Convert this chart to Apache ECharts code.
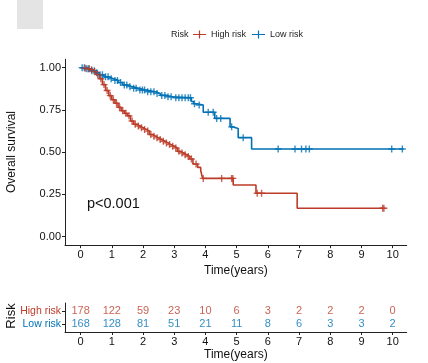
<!DOCTYPE html>
<html>
<head>
<meta charset="utf-8">
<script src="https://cdn.jsdelivr.net/npm/echarts@6/dist/echarts.min.js"></script>
<style>html,body{margin:0;padding:0;background:#fff}#c{width:428px;height:363px}</style>
</head>
<body>
<div id="c"></div>
<script>
// ---- data ----
const groups = ['High risk', 'Low risk'];
const colors = ['#BC3C29', '#0072B5'];
// step curves: [time, survival after event]
const highSteps = [[0,1.0],[0.1,0.997],[0.2,0.994],[0.3,0.988],[0.4,0.977],[0.5,0.96],[0.6,0.935],[0.7,0.9],[0.8,0.865],[0.9,0.835],[1.0,0.81],[1.1,0.79],[1.2,0.765],[1.3,0.745],[1.4,0.73],[1.5,0.715],[1.6,0.685],[1.7,0.665],[1.8,0.655],[1.9,0.645],[2.0,0.635],[2.1,0.625],[2.2,0.605],[2.3,0.595],[2.4,0.585],[2.5,0.575],[2.6,0.565],[2.7,0.555],[2.8,0.545],[2.9,0.535],[3.0,0.525],[3.1,0.505],[3.2,0.495],[3.3,0.485],[3.4,0.475],[3.5,0.46],[3.6,0.43],[3.75,0.41],[3.85,0.39],[3.91,0.345],[4.89,0.306],[5.62,0.257],[6.94,0.168],[9.72,0.168]];
const lowSteps = [[0,1.0],[0.15,0.994],[0.3,0.982],[0.45,0.97],[0.6,0.958],[0.75,0.946],[0.9,0.935],[1.05,0.925],[1.2,0.912],[1.35,0.898],[1.5,0.888],[1.65,0.878],[1.85,0.868],[2.1,0.858],[2.4,0.848],[2.55,0.836],[2.75,0.828],[2.95,0.822],[3.55,0.80],[3.62,0.787],[3.72,0.779],[3.93,0.736],[4.3,0.70],[4.79,0.65],[4.86,0.64],[5.05,0.586],[5.48,0.519],[10.35,0.519]];
// censoring times
const highCensor = [0.15,0.25,0.35,0.45,0.55,0.65,0.75,0.85,0.95,1.05,1.15,1.25,1.35,1.45,1.55,1.65,1.75,1.85,1.95,2.05,2.15,2.25,2.35,2.45,2.55,2.65,2.75,2.85,2.95,3.05,3.15,3.25,3.35,3.45,3.55,3.7,3.93,4.52,4.84,4.88,5.66,5.8,9.68,9.72];
const lowCensor = [0.05,0.12,0.2,0.28,0.36,0.44,0.52,0.62,0.7,0.8,0.88,0.98,1.1,1.18,1.28,1.4,1.48,1.58,1.7,1.78,1.9,1.98,2.05,2.15,2.25,2.35,2.45,2.6,2.7,2.8,2.9,3.05,3.15,3.25,3.35,3.45,3.52,3.65,3.8,4.09,4.25,4.36,4.49,4.84,5.21,6.33,6.87,7.08,7.22,7.33,9.97,10.31];
// numbers at risk
const riskTimes = [0,1,2,3,4,5,6,7,8,9,10];
const highAtRisk = [178,122,59,23,10,6,3,2,2,2,0];
const lowAtRisk = [168,128,81,51,21,11,8,6,3,3,2];
const xTicks = [0,1,2,3,4,5,6,7,8,9,10];
const yTicks = [0,0.25,0.5,0.75,1];

function survAt(steps, t){ let s = steps[0][1]; for (const p of steps){ if (p[0] <= t) s = p[1]; } return s; }

const FONT = 'Liberation Sans, Arial, Helvetica, sans-serif';
const plus = 'path://M3.2,0h1.6v3.2h3.2v1.6h-3.2v3.2h-1.6v-3.2h-3.2v-1.6h3.2z';
const legIcon = 'path://M0,3.4h6v-3.4h1.2v3.4h6v1.2h-6v3.4h-1.2v-3.4h-6z';
const axisCol = '#222';
const txtCol = '#111';

const chart = echarts.init(document.getElementById('c'), null, {renderer:'canvas'});
const stepsArr = [highSteps, lowSteps];
const censArr = [highCensor, lowCensor];
const series = [];
groups.forEach((g,i)=>{
  series.push({name:g, type:'line', step:'end', xAxisIndex:0, yAxisIndex:0, data:stepsArr[i], symbol:'none',
    lineStyle:{color:colors[i], width:1.6}, itemStyle:{color:colors[i]}, z: 3-i, silent:true});
  series.push({name:g, type:'scatter', xAxisIndex:0, yAxisIndex:0, symbol:plus, symbolSize:7,
    data:censArr[i].map(t=>[t, survAt(stepsArr[i], t)]), itemStyle:{color:colors[i]}, z:4-i, silent:true});
});
const riskArr = [highAtRisk, lowAtRisk];
const rowPos = [2,1];
groups.forEach((g,i)=>{
  series.push({name:g+' table', type:'scatter', xAxisIndex:1, yAxisIndex:1, symbolSize:0,
    data:riskTimes.map((t,k)=>[t,rowPos[i],riskArr[i][k]]),
    label:{show:true, position:'inside', formatter:p=>String(p.value[2]), color:colors[i], fontSize:11, fontFamily:FONT},
    silent:true});
});

chart.setOption({
  animation:false,
  textStyle:{fontFamily:FONT},
  legend:{data:groups.map((g,i)=>({name:g, icon:legIcon, itemStyle:{color:colors[i]}})),
    left:193, top:30, itemWidth:13, itemHeight:8, itemGap:6, padding:0,
    textStyle:{fontSize:9, color:'#222', fontFamily:FONT}, selectedMode:false},
  graphic:[
    {type:'rect', shape:{x:17,y:0,width:26,height:29}, style:{fill:'#e4e4e4'}},
    {type:'text', x:171, y:35, style:{text:'Risk', fontSize:9, fill:'#222', fontFamily:FONT, textVerticalAlign:'middle'}},
    {type:'text', x:12, y:152, rotation:Math.PI/2, style:{text:'Overall survival', fontSize:12, fill:txtCol, fontFamily:FONT, textAlign:'center', textVerticalAlign:'middle'}},
    {type:'text', x:87, y:203.5, style:{text:'p<0.001', fontSize:14.5, fill:txtCol, fontFamily:FONT, textVerticalAlign:'middle'}},
    {type:'text', x:11, y:316, rotation:Math.PI/2, style:{text:'Risk', fontSize:13, fill:txtCol, fontFamily:FONT, textAlign:'center', textVerticalAlign:'middle'}}
  ],
  grid:[
    {left:65, right:21.3, top:59.25, height:185.9},
    {left:65, right:21.3, top:303, height:29}
  ],
  xAxis:[
    {type:'value', gridIndex:0, min:-0.5, max:10.45, splitLine:{show:false},
     axisLine:{show:true, onZero:false, lineStyle:{color:axisCol, width:1}},
     axisTick:{show:true, length:3, customValues:xTicks, lineStyle:{color:axisCol}},
     axisLabel:{customValues:xTicks, fontSize:11, color:txtCol, margin:4, fontFamily:FONT},
     name:'Time(years)', nameLocation:'middle', nameGap:16, nameTextStyle:{fontSize:12, color:txtCol, fontFamily:FONT}},
    {type:'value', gridIndex:1, min:-0.5, max:10.45, splitLine:{show:false},
     axisLine:{show:true, onZero:false, lineStyle:{color:axisCol, width:1}},
     axisTick:{show:true, length:3, customValues:xTicks, lineStyle:{color:axisCol}},
     axisLabel:{customValues:xTicks, fontSize:11, color:txtCol, margin:4, fontFamily:FONT},
     name:'Time(years)', nameLocation:'middle', nameGap:16.5, nameTextStyle:{fontSize:12, color:txtCol, fontFamily:FONT}}
  ],
  yAxis:[
    {type:'value', gridIndex:0, min:-0.05, max:1.05, splitLine:{show:false},
     axisLine:{show:true, onZero:false, lineStyle:{color:axisCol, width:1}},
     axisTick:{show:true, length:3, customValues:yTicks, lineStyle:{color:axisCol}},
     axisLabel:{customValues:yTicks, formatter:v=>v.toFixed(2), fontSize:11, color:txtCol, margin:4, fontFamily:FONT}},
    {type:'value', gridIndex:1, min:0.4, max:2.6, splitLine:{show:false},
     axisLine:{show:true, onZero:false, lineStyle:{color:axisCol, width:1}},
     axisTick:{show:true, length:3, customValues:[1,2], lineStyle:{color:axisCol}},
     axisLabel:{customValues:[1,2], fontSize:10.5, margin:4, fontFamily:FONT,
       formatter:v=> v===2 ? '{h|High risk}' : '{l|Low risk}',
       rich:{h:{color:colors[0], fontSize:10.5, fontFamily:FONT}, l:{color:colors[1], fontSize:10.5, fontFamily:FONT}}}}
  ],
  series:series
});
</script>
</body>
</html>
